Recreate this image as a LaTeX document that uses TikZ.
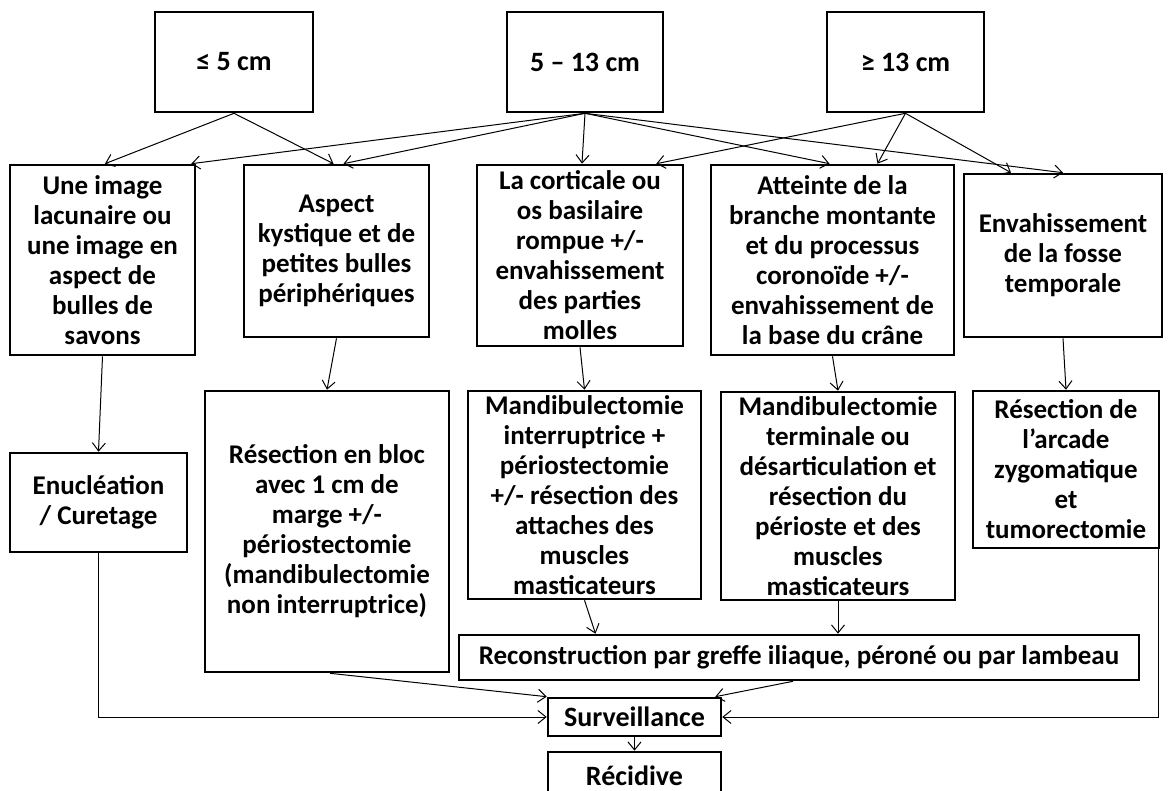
\documentclass[tikz,border=0pt]{standalone}
\usepackage{fontspec}
\setmainfont{Carlito}
\usepackage{tikz}
\usetikzlibrary{arrows.meta}
\usetikzlibrary{shadows}

\begin{document}
\begin{tikzpicture}[x=1pt,y=-1pt,
		bloc/.style={draw,line width=2.6pt,fill=white,align=center,inner sep=0pt,
			drop shadow={shadow xshift=1.4pt,shadow yshift=-1.4pt,fill=black,opacity=1},
			font=\bfseries\fontsize{27}{30}\selectfont},
		fleche/.style={line width=1pt,-{Straight Barb[length=8pt,width=13pt]}}]
		\useasboundingbox (0,0) rectangle (1168,791);
		
		% tailles
		\node[bloc,minimum width=158,minimum height=100,font=\bfseries\fontsize{28}{30}\selectfont] (t1) at (234,62) {≤ 5 cm};
		\node[bloc,minimum width=156,minimum height=100,font=\bfseries\fontsize{28}{30}\selectfont] (t2) at (585,62) {5 – 13 cm};
		\node[bloc,minimum width=157,minimum height=100,font=\bfseries\fontsize{28}{30}\selectfont] (t3) at (905.5,62) {≥ 13 cm};
		
		% aspects radiologiques
		\node[bloc,minimum width=185,minimum height=190] (a1) at (102.5,260) {Une image\\lacunaire ou\\une image en\\aspect de\\bulles de\\savons};
		\node[bloc,minimum width=185,minimum height=172] (a2) at (336.5,251) {Aspect\\kystique et de\\petites bulles\\périphériques};
		\node[bloc,minimum width=206,minimum height=181] (a3) at (580,255.5) {La corticale ou\\os basilaire\\rompue +/-\\envahissement\\des parties\\molles};
		\node[bloc,minimum width=243,minimum height=190] (a4) at (832.5,260) {Atteinte de la\\branche montante\\et du processus\\coronoïde +/-\\envahissement de\\la base du crâne};
		\node[bloc,minimum width=198,minimum height=163] (a5) at (1063,255.5) {Envahissement\\de la fosse\\temporale};
		
		% traitements
		\node[bloc,minimum width=177,minimum height=99] (c1) at (98.5,502.5) {Enucléation\\/ Curetage};
		\node[bloc,minimum width=244,minimum height=281] (c2) at (327,531.5) {Résection en bloc\\avec 1 cm de\\marge +/-\\périostectomie\\(mandibulectomie\\non interruptrice)};
		\node[bloc,minimum width=233,minimum height=208] (c3) at (584.5,495) {Mandibulectomie\\interruptrice +\\périostectomie\\+/- résection des\\attaches des\\muscles\\masticateurs};
		\node[bloc,minimum width=234,minimum height=208] (c4) at (838,496) {Mandibulectomie\\terminale ou\\désarticulation et\\résection du\\périoste et des\\muscles\\masticateurs};
		\node[bloc,minimum width=186,minimum height=157] (c5) at (1066,469.5) {Résection de\\l’arcade\\zygomatique\\et\\tumorectomie};
		
		\node[bloc,minimum width=680,minimum height=45,font=\bfseries\fontsize{27}{30}\selectfont] (reco) at (799,657.5) {Reconstruction par greffe iliaque, péroné ou par lambeau};
		\node[bloc,minimum width=173,minimum height=38,font=\bfseries\fontsize{28}{30}\selectfont] (surv) at (634.5,717) {Surveillance};
		\node[bloc,minimum width=173,minimum height=48,font=\bfseries\fontsize{28}{30}\selectfont] (reci) at (634.5,776) {Récidive};
		
		% tailles -> aspects
		\draw[fleche] (t1.south) -- ([xshift=2.5pt]a1.north);
		\draw[fleche] (t1.south) -- ([xshift=-3pt]a2.north);
		\draw[fleche] (t2.south) -- ([xshift=-5pt]a1.north east);
		\draw[fleche] (t2.south) -- ([xshift=7pt]a2.north);
		\draw[fleche] (t2.south) -- ([xshift=2pt]a3.north);
		\draw[fleche] (t2.south) -- ([xshift=-3pt]a4.north);
		\draw[fleche] (t2.south) -- (a5.north);
		\draw[fleche] (t3.south) -- ([xshift=-28pt]a3.north east);
		\draw[fleche] (t3.south) -- ([xshift=45pt]a4.north);
		\draw[fleche] (t3.south) -- ([xshift=-52pt]a5.north);
		
		% aspects -> traitements
		\draw[fleche] (a1.south) -- (c1.north);
		\draw[fleche] (a2.south) -- (c2.north);
		\draw[fleche] (a3.south) -- (c3.north);
		\draw[fleche] (a4.south) -- (c4.north);
		\draw[fleche] (a5.south) -- (c5.north);
		
		\draw[fleche] (c3.south) -- ([xshift=11pt]c3.south |- reco.north);
		\draw[fleche] (c4.south) -- (c4.south |- reco.north);
		
		% vers la surveillance
		\draw[fleche] ([xshift=3pt]c2.south) -- (surv.north west);
		\draw[fleche] ([xshift=-6pt]reco.south) -- ([xshift=-7pt]surv.north east);
		\draw[fleche] (c1.south) -- (c1.south |- surv.west) -- (surv.west);
		\draw[fleche] ([xshift=-2pt]c5.south east) -- ([xshift=-2pt]c5.south east |- surv.east) -- (surv.east);
		\draw[fleche] (surv.south) -- (reci.north);
	\end{tikzpicture}
\end{document}
